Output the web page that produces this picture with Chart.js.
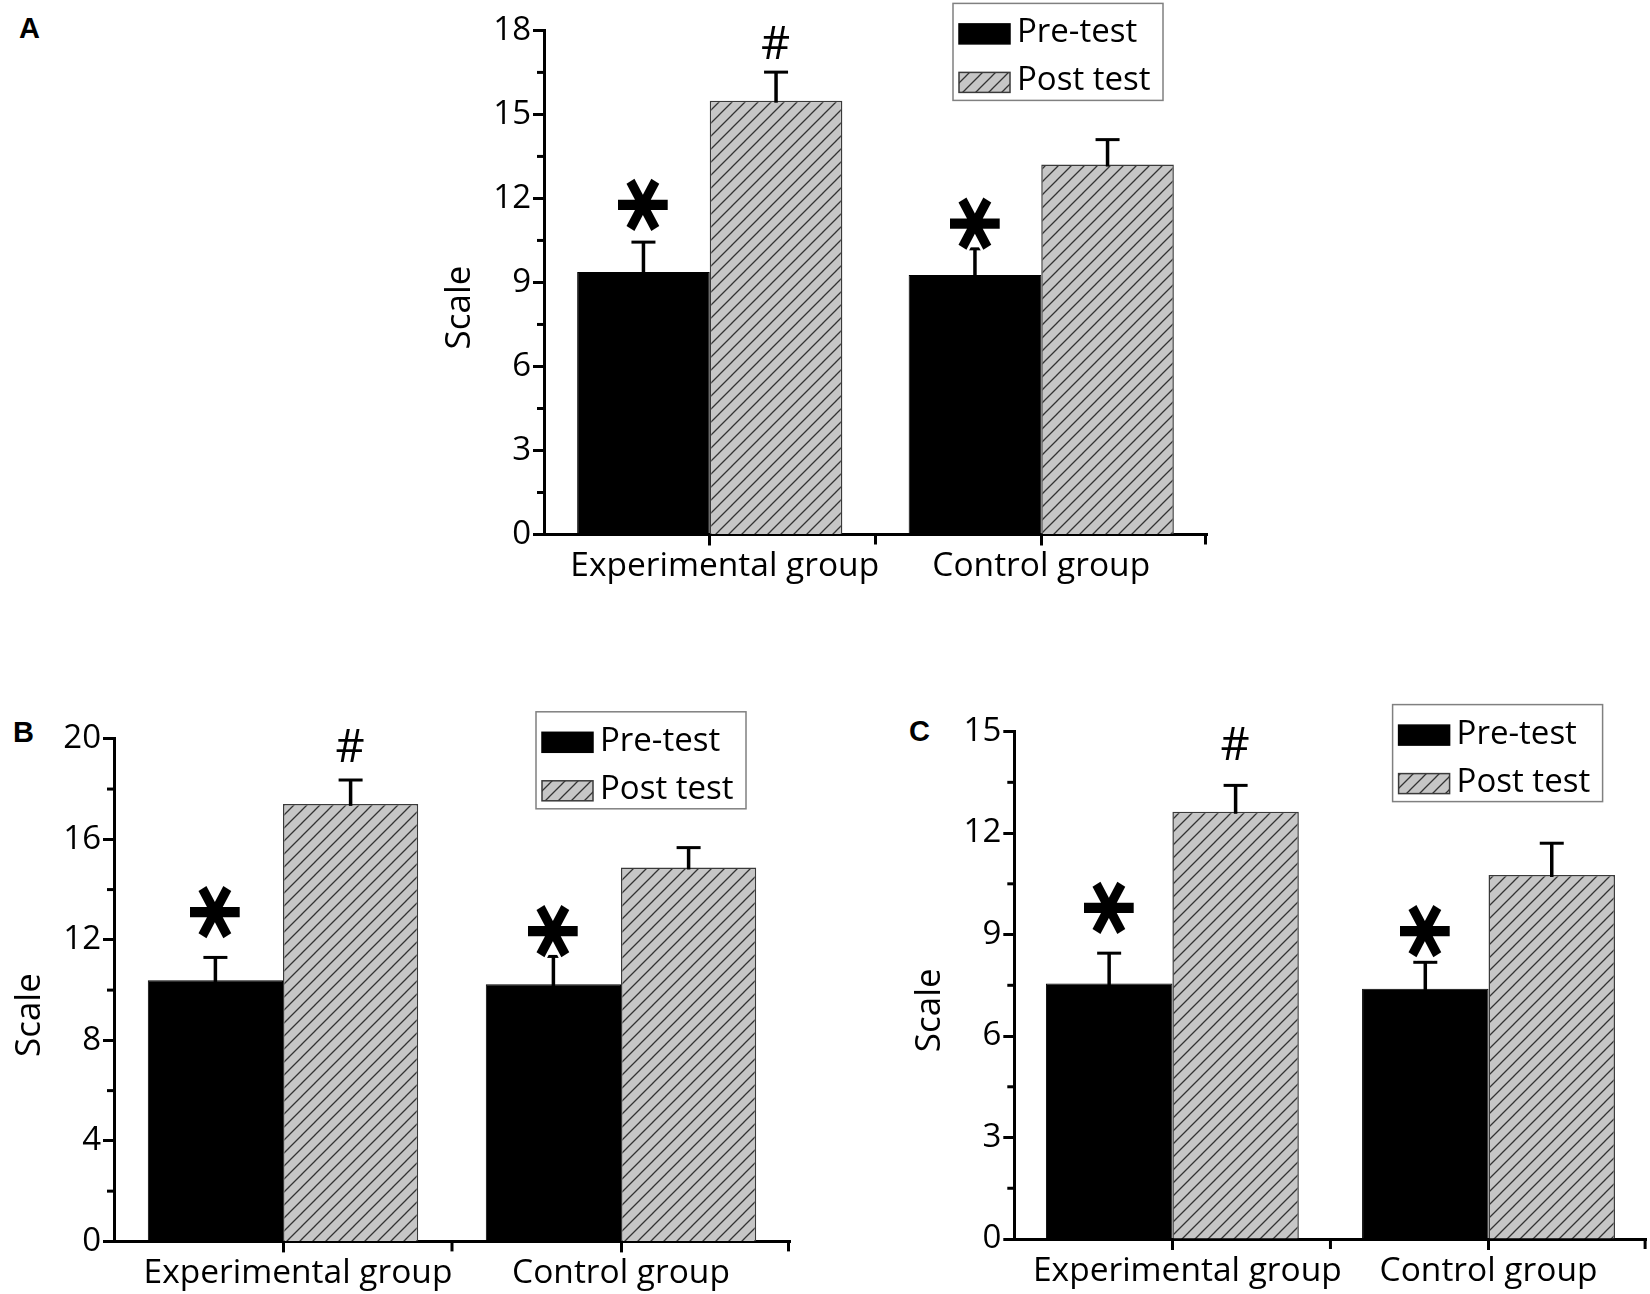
<!DOCTYPE html>
<html>
<head>
<meta charset="utf-8">
<script src="https://cdn.jsdelivr.net/npm/chart.js@4.4.1/dist/chart.umd.min.js"></script>
<style>
html, body { margin: 0; padding: 0; background: #fff; overflow: hidden; }
body { width: 1650px; height: 1294px; position: relative; }
canvas { position: absolute; }
.tag { position: absolute; font: bold 29px "Liberation Sans", Arial, sans-serif; line-height: 1; color: #000; }
</style>
</head>
<body>
<div class="tag" style="left:19px;top:14px">A</div>
<div class="tag" style="left:13px;top:718px">B</div>
<div class="tag" style="left:909px;top:717px">C</div>
<canvas id="chartA"></canvas>
<canvas id="chartB"></canvas>
<canvas id="chartC"></canvas>
<script>
"use strict";

// categories and series names
const groups = ['Experimental group', 'Control group'];
const seriesNames = ['Pre-test', 'Post test'];
// significance marks above the bars
const preMarks = ['*', '*'];
const postMarks = ['#', ''];

// panel A
const preA = [9.37, 9.27];
const preErrA = [1.07, 0.93];
const postA = [15.49, 13.21];
const postErrA = [1.02, 0.89];
const ticksA = [0, 3, 6, 9, 12, 15, 18];

// panel B
const preB = [10.39, 10.23];
const preErrB = [0.91, 1.11];
const postB = [17.41, 14.88];
const postErrB = [0.95, 0.79];
const ticksB = [0, 4, 8, 12, 16, 20];

// panel C
const preC = [7.55, 7.40];
const preErrC = [0.90, 0.78];
const postC = [12.63, 10.76];
const postErrC = [0.78, 0.94];
const ticksC = [0, 3, 6, 9, 12, 15];

const FONT = '"Open Sans", "DejaVu Sans", sans-serif';
// the first category label sits a little right of its tick in the original
const labelNudge = [15, 0];

// gray fill with /// lines
const hatch = (function () {
	const c = document.createElement('canvas');
	c.width = 13; c.height = 13;
	const g = c.getContext('2d');
	g.fillStyle = '#c6c6c6';
	g.fillRect(0, 0, 13, 13);
	g.strokeStyle = '#333';
	g.lineWidth = 1.3;
	g.beginPath();
	g.moveTo(-2, 15); g.lineTo(15, -2);
	g.moveTo(-2, 2); g.lineTo(2, -2);
	g.moveTo(11, 15); g.lineTo(15, 11);
	g.stroke();
	return g.createPattern(c, 'repeat');
})();

// draws a glyph scaled to a given ink height, centred at (x, cy)
function drawMark(ctx, text, x, cy, inkHeight, font, turn) {
	ctx.save();
	ctx.translate(x, cy);
	if (turn) {
		ctx.rotate(Math.PI / 2);
		ctx.scale(1.1, 1);
	}
	ctx.font = font.replace('#', '100px');
	let m = ctx.measureText(text);
	const size = 100 * inkHeight / (m.actualBoundingBoxAscent + m.actualBoundingBoxDescent);
	ctx.font = font.replace('#', size + 'px');
	m = ctx.measureText(text);
	const bx = -(m.actualBoundingBoxRight - m.actualBoundingBoxLeft) / 2;
	const by = (m.actualBoundingBoxAscent - m.actualBoundingBoxDescent) / 2;
	ctx.textAlign = 'left';
	ctx.textBaseline = 'alphabetic';
	ctx.lineJoin = 'round';
	ctx.lineWidth = 5;
	ctx.strokeStyle = '#fff';
	ctx.strokeText(text, bx, by);
	ctx.fillStyle = '#000';
	ctx.fillText(text, bx, by);
	ctx.restore();
}

const extras = {
	id: 'extras',
	afterDatasetsDraw(chart) {
		const ctx = chart.ctx;
		const ys = chart.scales.y;
		const o = chart.options.plugins.extras;
		ctx.save();
		// error bars (upper only)
		chart.data.datasets.forEach((ds, di) => {
			chart.getDatasetMeta(di).data.forEach((bar, i) => {
				const top = ys.getPixelForValue(ds.data[i] + ds.errors[i]);
				ctx.strokeStyle = '#000';
				ctx.lineCap = 'butt';
				ctx.lineWidth = 3.5;
				ctx.beginPath();
				ctx.moveTo(bar.x, bar.y + 2);
				ctx.lineTo(bar.x, top);
				ctx.stroke();
				ctx.lineWidth = 3;
				ctx.beginPath();
				ctx.moveTo(bar.x - 12, top);
				ctx.lineTo(bar.x + 12, top);
				ctx.stroke();
			});
		});
		// marks
		chart.data.datasets.forEach((ds, di) => {
			chart.getDatasetMeta(di).data.forEach((bar, i) => {
				const mark = ds.marks[i];
				if (!mark) return;
				const top = ys.getPixelForValue(ds.data[i] + ds.errors[i]);
				const cy = top - o.lifts[di][i];
				if (mark === '*') drawMark(ctx, '\u2217', bar.x, cy, 50, 'bold # "DejaVu Sans"', true);
				else drawMark(ctx, mark, bar.x, cy, 33, '# ' + FONT, false);
			});
		});
		ctx.restore();
	},
	afterDraw(chart) {
		const ctx = chart.ctx;
		const a = chart.chartArea;
		const ys = chart.scales.y;
		const xs = chart.scales.x;
		const ticks = chart.options.plugins.extras.ticks;
		ctx.save();
		ctx.strokeStyle = '#000';
		ctx.lineWidth = 3;
		// minor y ticks
		for (let k = 0; k < ticks.length - 1; k++) {
			const py = ys.getPixelForValue((ticks[k] + ticks[k + 1]) / 2);
			ctx.beginPath();
			ctx.moveTo(a.left - 7, py);
			ctx.lineTo(a.left, py);
			ctx.stroke();
		}
		// x ticks at category edges, and the category labels
		const half = (xs.getPixelForTick(1) - xs.getPixelForTick(0)) / 2;
		ctx.fillStyle = '#000';
		ctx.font = '33.5px ' + FONT;
		ctx.textAlign = 'center';
		ctx.textBaseline = 'alphabetic';
		for (let i = 0; i < groups.length; i++) {
			const px = Math.min(xs.getPixelForTick(i) + half, a.right - 1.5);
			ctx.beginPath();
			ctx.moveTo(px, a.bottom);
			ctx.lineTo(px, a.bottom + 10);
			ctx.stroke();
			ctx.fillText(chart.data.labels[i], xs.getPixelForTick(i) + labelNudge[i], a.bottom + 41.5);
		}
		// axis title
		ctx.save();
		ctx.translate(a.left - 84, (a.top + a.bottom) / 2 + 25);
		ctx.rotate(-Math.PI / 2);
		ctx.font = '35px ' + FONT;
		ctx.textAlign = 'center';
		ctx.textBaseline = 'middle';
		ctx.fillText('Scale', 0, 0);
		ctx.restore();
		// legend box
		const bw = 210, bh = 97;
		const bx = a.right - 44 - bw, by = a.top - 27;
		ctx.fillStyle = '#fff';
		ctx.fillRect(bx, by, bw, bh);
		ctx.strokeStyle = '#808080';
		ctx.lineWidth = 1.5;
		ctx.strokeRect(bx, by, bw, bh);
		const rows = [30.5, 79];
		const bases = [39, 87];
		chart.data.datasets.forEach((ds, di) => {
			ctx.fillStyle = ds.backgroundColor;
			ctx.fillRect(bx + 6, by + rows[di] - 10, 51, 20);
			ctx.strokeStyle = ds.borderColor;
			ctx.lineWidth = 1.5;
			ctx.strokeRect(bx + 6, by + rows[di] - 10, 51, 20);
			ctx.fillStyle = '#000';
			ctx.font = '33px ' + FONT;
			ctx.textAlign = 'left';
			ctx.textBaseline = 'alphabetic';
			ctx.fillText(ds.label, bx + 64, by + bases[di]);
		});
		ctx.restore();
	}
};

function makePanel(id, area, pre, preErr, post, postErr, tickVals, lifts) {
	const cv = document.getElementById(id);
	const L = Math.floor(area.l - 150);
	const T = Math.floor(area.t - 45);
	const R = Math.min(1650, Math.ceil(area.r + 4));
	const B = Math.min(1294, Math.ceil(area.b + 62));
	cv.width = R - L;
	cv.height = B - T;
	cv.style.left = L + 'px';
	cv.style.top = T + 'px';
	cv.style.width = (R - L) + 'px';
	cv.style.height = (B - T) + 'px';

	return new Chart(cv.getContext('2d'), {
		type: 'bar',
		data: {
			labels: groups,
			datasets: [{
				label: seriesNames[0],
				data: pre,
				errors: preErr,
				marks: preMarks,
				backgroundColor: '#000',
				borderColor: '#000',
				borderWidth: 1
			}, {
				label: seriesNames[1],
				data: post,
				errors: postErr,
				marks: postMarks,
				backgroundColor: hatch,
				borderColor: '#3a3a3a',
				borderWidth: 1.5
			}]
		},
		options: {
			responsive: false,
			animation: false,
			devicePixelRatio: 1,
			layout: {
				padding: { left: 0, top: area.t - T, right: R - area.r, bottom: 0 }
			},
			categoryPercentage: 0.8,
			barPercentage: 1.0,
			scales: {
				x: {
					z: 1,
					offset: true,
					grid: {
						offset: false,
						drawOnChartArea: false,
						drawTicks: true,
						tickLength: 11,
						tickWidth: 3,
						tickColor: '#000',
						color: '#000'
					},
					border: { color: '#000', width: 3 },
					// labels are drawn by the plugin so one can be nudged
					ticks: { display: false },
					afterFit(s) { s.height = B - area.b; }
				},
				y: {
					min: tickVals[0],
					max: tickVals[tickVals.length - 1],
					afterBuildTicks(s) { s.ticks = tickVals.map(v => ({ value: v })); },
					grid: {
						drawOnChartArea: false,
						drawTicks: true,
						tickLength: 11,
						tickWidth: 3,
						tickColor: '#000',
						color: '#000'
					},
					border: { color: '#000', width: 3 },
					ticks: {
						color: '#000',
						font: { family: FONT, size: 33 },
						padding: 2
					},
					afterFit(s) { s.width = area.l - L; }
				}
			},
			plugins: {
				legend: { display: false },
				tooltip: { enabled: false },
				extras: { ticks: tickVals, lifts: lifts }
			}
		},
		plugins: [extras]
	});
}

makePanel('chartA', { l: 544, t: 30.4, r: 1207, b: 534.5 },
	preA, preErrA, postA, postErrA, ticksA, [[37, 25], [30, 0]]);
makePanel('chartB', { l: 114, t: 738.8, r: 790, b: 1241.4 },
	preB, preErrB, postB, postErrB, ticksB, [[45, 25], [35, 0]]);
makePanel('chartC', { l: 1014.3, t: 731.6, r: 1646.6, b: 1239 },
	preC, preErrC, postC, postErrC, ticksC, [[45, 31], [42, 0]]);
</script>
</body>
</html>
